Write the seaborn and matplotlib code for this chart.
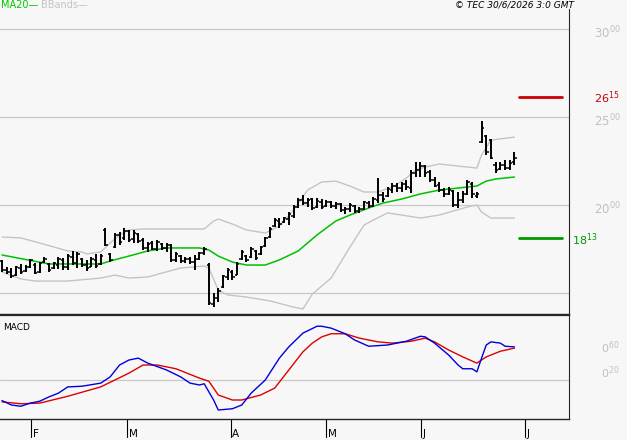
import numpy as np
import matplotlib
matplotlib.use("Agg")
import matplotlib.pyplot as plt
import matplotlib.transforms as mtransforms
import seaborn as sns

# daily OHLC bars, late January to end of June
highs = [16.88, 16.48, 16.42, 16.53, 16.65, 16.59, 16.93, 16.70, 16.76, 17.05,
         16.70, 16.76, 17.05, 16.99, 17.22, 17.39, 17.33, 16.99, 16.88, 17.05,
         17.22, 17.22, 18.69, 17.27, 18.41, 18.47, 18.69, 18.58, 18.58, 18.41,
         18.13, 17.90, 17.95, 18.01, 17.84, 17.84, 17.78, 17.33, 17.16, 17.05,
         17.05, 17.16, 17.33, 17.61, 16.70, 15.00, 15.28, 16.02, 16.42, 16.31,
         16.76, 17.44, 17.16, 17.61, 17.44, 17.67, 18.18, 18.75, 19.26, 19.26,
         19.32, 19.60, 20.00, 20.40, 20.57, 20.40, 20.40, 20.40, 20.34, 20.28,
         20.23, 20.17, 20.11, 19.89, 20.11, 20.00, 19.89, 20.23, 20.23, 20.45,
         21.53, 20.74, 21.02, 21.25, 21.25, 21.31, 21.42, 21.99, 22.44, 22.44,
         22.27, 21.99, 21.59, 21.31, 20.97, 21.02, 20.85, 20.74, 20.80, 21.42,
         21.31, 20.74, 24.77, 23.98, 23.75, 22.44, 22.44, 22.56, 22.56, 23.01]
lows = [16.19, 16.08, 15.85, 15.97, 16.08, 16.19, 16.42, 16.08, 16.14, 16.70,
        16.19, 16.36, 16.36, 16.31, 16.31, 16.59, 16.42, 16.48, 16.25, 16.48,
        16.42, 16.59, 17.67, 16.76, 17.56, 17.73, 18.01, 17.90, 17.84, 17.84,
        17.44, 17.33, 17.44, 17.39, 17.44, 17.33, 16.76, 16.76, 16.70, 16.70,
        16.65, 16.31, 16.88, 17.16, 14.32, 14.20, 14.49, 15.28, 15.74, 15.74,
        16.02, 16.88, 16.76, 16.99, 16.88, 17.16, 17.61, 18.13, 18.75, 18.69,
        18.98, 18.86, 19.26, 19.83, 20.00, 19.89, 19.72, 19.83, 19.77, 19.89,
        19.83, 19.77, 19.60, 19.49, 19.60, 19.55, 19.55, 19.72, 19.83, 19.89,
        20.11, 20.17, 20.45, 20.68, 20.74, 20.74, 20.85, 20.68, 21.59, 21.59,
        21.59, 21.31, 21.02, 20.74, 20.45, 20.57, 19.89, 19.83, 20.11, 20.57,
        20.40, 20.40, 23.52, 22.84, 22.61, 21.82, 21.99, 21.99, 21.99, 22.27]
opens = [16.80, 16.30, 16.20, 16.00, 16.40, 16.25, 16.50, 16.60, 16.20, 16.75,
         16.65, 16.40, 16.60, 16.90, 16.45, 17.05, 16.70, 16.95, 16.60, 16.50,
         16.90, 16.65, 18.60, 17.20, 17.60, 18.30, 18.10, 18.50, 18.05, 18.35,
         18.00, 17.55, 17.85, 17.50, 17.80, 17.55, 17.70, 16.90, 17.10, 16.80,
         16.95, 16.75, 16.95, 17.25, 16.60, 14.40, 14.70, 15.35, 15.90, 16.20,
         16.05, 16.95, 17.10, 17.05, 17.40, 17.20, 17.65, 18.20, 18.80, 19.10,
         19.05, 19.20, 19.35, 19.90, 20.30, 20.10, 20.35, 19.90, 20.20, 19.95,
         20.15, 19.95, 20.05, 19.70, 19.75, 19.95, 19.65, 19.80, 20.10, 19.95,
         20.30, 20.55, 20.50, 20.85, 21.10, 20.95, 21.20, 20.95, 21.80, 22.00,
         22.20, 21.85, 21.45, 21.15, 20.85, 20.65, 20.80, 20.00, 20.30, 20.65,
         21.20, 20.50, 23.60, 23.90, 23.70, 22.30, 22.05, 22.30, 22.10, 22.45]
closes = [16.30, 16.20, 15.95, 16.45, 16.20, 16.50, 16.85, 16.15, 16.70, 16.95,
          16.30, 16.70, 16.95, 16.45, 17.10, 16.70, 17.20, 16.60, 16.40, 16.95,
          16.55, 17.10, 17.75, 16.85, 18.30, 17.90, 18.55, 18.00, 18.40, 17.95,
          17.55, 17.80, 17.50, 17.90, 17.55, 17.75, 16.85, 17.20, 16.80, 16.95,
          16.75, 16.95, 17.25, 17.50, 14.45, 14.70, 15.10, 15.95, 16.30, 15.90,
          16.65, 17.35, 16.90, 17.50, 17.00, 17.60, 18.10, 18.65, 19.15, 18.90,
          19.25, 19.50, 19.90, 20.30, 20.10, 20.30, 19.85, 20.25, 19.90, 20.15,
          19.95, 20.05, 19.70, 19.80, 20.00, 19.65, 19.80, 20.15, 19.95, 20.35,
          20.55, 20.35, 20.90, 21.10, 20.95, 21.20, 21.00, 21.80, 22.00, 22.20,
          21.80, 21.40, 21.10, 20.85, 20.60, 20.85, 20.00, 20.30, 20.60, 21.30,
          20.60, 20.65, 24.40, 23.00, 22.70, 22.00, 22.30, 22.10, 22.40, 22.70]

# MA20 and Bollinger bands (bar index, price)
ma_idx = [0, 10, 21, 23, 27, 31, 35, 42, 44, 46, 49, 52, 56, 59, 63, 67, 71,
          74, 78, 81, 85, 89, 93, 101, 103, 105, 109]
ma20 = [17.16, 16.65, 16.65, 16.82, 17.10, 17.39, 17.56, 17.56, 17.44, 17.10,
        16.76, 16.59, 16.59, 16.88, 17.39, 18.30, 19.09, 19.43, 19.83, 20.11,
        20.34, 20.63, 20.85, 21.08, 21.36, 21.48, 21.59]
bb_up_idx = [0, 4, 8, 14, 17, 18, 21, 23, 25, 27, 30, 43, 45, 46, 49, 52, 56,
             59, 62, 65, 68, 71, 74, 77, 80, 83, 86, 88, 90, 93, 101, 102, 104, 109]
bb_up = [18.18, 18.13, 17.84, 17.39, 17.33, 17.22, 17.33, 17.84, 18.30, 18.58,
         18.64, 18.64, 19.09, 19.20, 18.92, 18.58, 18.41, 18.81, 19.72, 20.85,
         21.31, 21.36, 21.08, 20.74, 20.74, 21.02, 21.53, 21.99, 22.16, 22.33,
         22.10, 22.84, 23.69, 23.86]
bb_lo_idx = [0, 4, 7, 14, 21, 24, 27, 31, 38, 43, 44, 46, 48, 52, 57, 62, 64,
             66, 70, 74, 77, 79, 82, 85, 89, 93, 99, 101, 102, 104, 109]
bb_lo = [16.19, 15.80, 15.68, 15.68, 15.85, 16.02, 15.85, 15.91, 16.42, 16.53,
         16.42, 15.17, 14.89, 14.77, 14.55, 14.20, 14.09, 14.94, 15.85, 17.61,
         18.86, 19.15, 19.55, 19.43, 19.26, 19.43, 19.89, 20.00, 19.60, 19.26,
         19.26]

# MACD panel
macd_idx = [0, 2, 4, 6, 8, 10, 12, 14, 17, 21, 23, 25, 27, 29, 31, 35, 38, 40,
            42, 43, 45, 46, 49, 51, 53, 56, 59, 61, 64, 67, 68, 70, 73, 75, 78,
            82, 86, 89, 90, 92, 95, 97, 98, 100, 101, 102, 103, 104, 106, 107, 109]
macd = [-0.33, -0.40, -0.42, -0.37, -0.34, -0.27, -0.21, -0.11, -0.10, -0.05,
        0.05, 0.24, 0.32, 0.35, 0.27, 0.16, 0.05, -0.05, -0.08, -0.06, -0.32,
        -0.48, -0.46, -0.40, -0.21, 0.00, 0.35, 0.53, 0.75, 0.86, 0.86, 0.83,
        0.74, 0.64, 0.54, 0.56, 0.62, 0.70, 0.69, 0.59, 0.40, 0.24, 0.18, 0.18,
        0.13, 0.35, 0.56, 0.61, 0.59, 0.54, 0.53]
sig_idx = [0, 4, 8, 14, 21, 27, 30, 33, 37, 42, 44, 46, 49, 51, 55, 58, 61, 64,
           66, 68, 70, 73, 76, 80, 83, 87, 90, 92, 95, 98, 101, 103, 106, 109]
signal = [-0.35, -0.38, -0.37, -0.26, -0.11, 0.11, 0.24, 0.24, 0.18, 0.03,
          -0.02, -0.24, -0.32, -0.32, -0.24, -0.13, 0.16, 0.45, 0.59, 0.69,
          0.74, 0.74, 0.67, 0.61, 0.59, 0.62, 0.67, 0.61, 0.48, 0.37, 0.27,
          0.37, 0.46, 0.51]

month_pos = [6.2, 26.6, 48.6, 68.9, 89.1, 111.3]
month_lbl = ["F", "M", "A", "M", "J", "J"]

price_grid = [15, 20, 25, 30]
price_lbl = [(30, "30", "00"), (25, "25", "00"), (20, "20", "00")]
macd_lbl = [(0.6, "0", "60"), (0.2, "0", "20")]
resist, support = 26.15, 18.13

bg = "#f7f7f7"
grey = "#c8c8c8"

sns.set_style("white")
plt.rcParams["font.family"] = ["DejaVu Sans"]

fig = plt.figure(figsize=(6.27, 4.40), dpi=100, facecolor=bg)
ax = fig.add_axes([0, 315 / 440 * 0 + (1 - 315 / 440), 569 / 627, (315 - 9) / 440])
ax2 = fig.add_axes([0, 1 - 419 / 440, 569 / 627, (419 - 315) / 440])

for a in (ax, ax2):
    a.set_facecolor(bg)
    a.set_xlim(-0.43, 120.6)
    a.set_xticks([])
    a.set_yticks([])
    a.spines["left"].set_visible(False)
    a.spines["right"].set_linewidth(0.8)
ax.spines["top"].set_visible(False)
ax.spines["bottom"].set_linewidth(1.6)
ax2.spines["top"].set_linewidth(1.6)
ax2.spines["bottom"].set_linewidth(1.0)

ax.set_ylim(13.75, 31.14)
ax2.set_ylim(-0.624, 1.04)

for g in price_grid:
    ax.axhline(g, color=grey, lw=0.9, zorder=0)
ax2.axhline(0, color=grey, lw=0.9, zorder=0)

# Bollinger bands and MA20
sns.lineplot(x=bb_up_idx, y=bb_up, ax=ax, color="#c4c4c4", lw=1.0,
             estimator=None, sort=False, legend=False)
sns.lineplot(x=bb_lo_idx, y=bb_lo, ax=ax, color="#c4c4c4", lw=1.0,
             estimator=None, sort=False, legend=False)
sns.lineplot(x=ma_idx, y=ma20, ax=ax, color="#00c000", lw=1.1,
             estimator=None, sort=False, legend=False)

# OHLC bars
x = np.arange(len(highs))
ax.vlines(x, lows, highs, color="black", lw=1.4, zorder=3)
ax.hlines(opens, x - 0.5, x, color="black", lw=1.1, zorder=3)
ax.hlines(closes, x, x + 0.5, color="black", lw=1.1, zorder=3)

# resistance / support markers
ax.axhline(resist, xmin=519 / 569, xmax=562 / 569, color="#cc0000", lw=2)
ax.axhline(support, xmin=519 / 569, xmax=562 / 569, color="#009900", lw=2)

tr = mtransforms.blended_transform_factory(ax.transAxes, ax.transData)
for val, big, small in price_lbl:
    ax.annotate(r"$\mathregular{%s^{%s}}$" % (big, small), xy=(594 / 569, val),
                xycoords=tr, xytext=(0, -3), textcoords="offset points",
                ha="left", va="center", color="#c0c0c0", fontsize=8.5,
                annotation_clip=False)
ax.annotate(r"$\mathregular{26^{15}}$", xy=(594 / 569, resist), xycoords=tr,
            xytext=(0, -1), textcoords="offset points", ha="left", va="center",
            color="#cc0000", fontsize=8, annotation_clip=False)
ax.annotate(r"$\mathregular{18^{13}}$", xy=(572 / 569, support), xycoords=tr,
            xytext=(0, -1), textcoords="offset points", ha="left", va="center",
            color="#009900", fontsize=8, annotation_clip=False)

# MACD lines
sns.lineplot(x=sig_idx, y=signal, ax=ax2, color="#dd0000", lw=1.0,
             estimator=None, sort=False, legend=False)
sns.lineplot(x=macd_idx, y=macd, ax=ax2, color="#0000dd", lw=1.0,
             estimator=None, sort=False, legend=False)
ax2.set_xlabel("")
ax.set_xlabel("")

tr2 = mtransforms.blended_transform_factory(ax2.transAxes, ax2.transData)
for val, big, small in macd_lbl:
    ax2.annotate(r"$\mathregular{%s^{%s}}$" % (big, small), xy=(601 / 569, val),
                 xycoords=tr2, xytext=(0, -4), textcoords="offset points",
                 ha="left", va="center", color="#c0c0c0", fontsize=8,
                 annotation_clip=False)
ax2.text(0.005, 0.88, "MACD", transform=ax2.transAxes, fontsize=6.5,
         ha="left", va="center", color="black")

# month ticks below the MACD panel
tr3 = mtransforms.blended_transform_factory(ax2.transData, ax2.transAxes)
for pos, lbl in zip(month_pos, month_lbl):
    ax2.plot([pos, pos], [0, -0.17], transform=tr3, color="black", lw=0.8,
             clip_on=False)
    ax2.text(pos + 0.35, -0.175, lbl, transform=tr3, fontsize=7.5,
             ha="left", va="baseline", color="black")

# header texts
fig.text(0.002, 1 - 5 / 440, "MA20—", color="#00c800", fontsize=7,
         ha="left", va="center")
fig.text(41 / 627, 1 - 5 / 440, "BBands—", color="#c4c4c4", fontsize=7,
         ha="left", va="center")
fig.text(574 / 627, 1 - 5 / 440, "© TEC 30/6/2026 3:0 GMT", color="black",
         fontsize=6.5, style="italic", ha="right", va="center")

fig.savefig("out.png", dpi=100, facecolor=bg)
